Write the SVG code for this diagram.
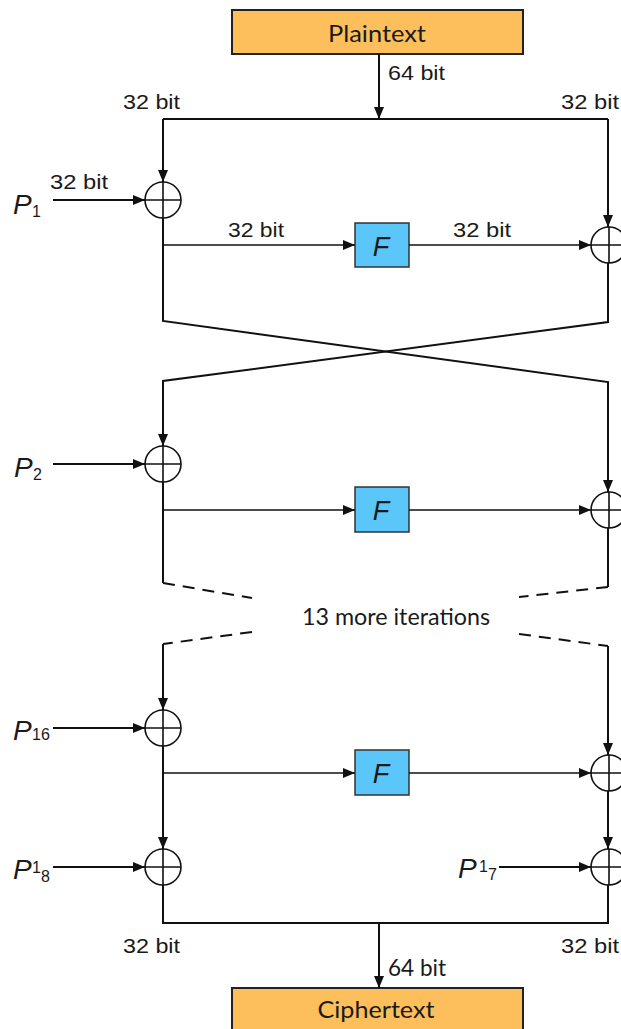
<svg xmlns="http://www.w3.org/2000/svg" width="621" height="1029" viewBox="0 0 621 1029">
<style>
.ln{stroke:#111;stroke-width:2;fill:none}
.thin{stroke:#111;stroke-width:1.6;fill:none}
.dash{stroke:#111;stroke-width:2;fill:none;stroke-dasharray:12 8}
.xor{stroke:#111;stroke-width:1.6;fill:#fff}
.io{fill:#fdbf5b;stroke:#222;stroke-width:2}
.fb{fill:#5ac6fa;stroke:#333;stroke-width:1.5}
.lbl{font-family:"Liberation Sans",Arial,sans-serif;font-size:20px;fill:#1a1a1a}
.cal{font-family:Lato,"Open Sans",sans-serif;font-size:24px;fill:#1a1a1a}
.p{font-family:"Liberation Sans",Arial,sans-serif;font-size:28px;font-style:italic;fill:#1a1a1a}
.sub{font-family:"Liberation Sans",Arial,sans-serif;font-size:16px;fill:#1a1a1a}
.f{font-family:"Liberation Sans",Arial,sans-serif;font-size:27px;font-style:italic;fill:#1a1a1a;text-anchor:middle}
</style>
<defs>
<marker id="ah" markerUnits="userSpaceOnUse" markerWidth="12" markerHeight="10" refX="12" refY="5" orient="auto">
<path d="M0,0 L12,5 L0,10 z" fill="#111"/>
</marker>
</defs>

<g id="plaintext">
<rect class="io" x="232" y="10" width="291" height="44"/>
<text class="cal" x="377" y="42" text-anchor="middle" textLength="98" lengthAdjust="spacingAndGlyphs">Plaintext</text>
</g>

<g id="ciphertext">
<rect class="io" x="232" y="988" width="291" height="50"/>
<text class="cal" x="376" y="1018" text-anchor="middle" textLength="117" lengthAdjust="spacingAndGlyphs">Ciphertext</text>
</g>

<g id="f1"><rect class="fb" x="355" y="223" width="54" height="44"/><text class="f" x="381" y="256">F</text></g>
<g id="f2"><rect class="fb" x="355" y="487" width="54" height="45"/><text class="f" x="381" y="520">F</text></g>
<g id="f3"><rect class="fb" x="355" y="750" width="54" height="45"/><text class="f" x="381" y="783">F</text></g>

<g id="xors">
<g id="xl1"><circle class="xor" cx="163" cy="200" r="18"/><path class="thin" d="M145,200H181M163,182V218"/></g>
<g id="xr1"><circle class="xor" cx="609" cy="245" r="18"/><path class="thin" d="M591,245H627M609,227V263"/></g>
<g id="xl2"><circle class="xor" cx="163" cy="464" r="18"/><path class="thin" d="M145,464H181M163,446V482"/></g>
<g id="xr2"><circle class="xor" cx="609" cy="510" r="18"/><path class="thin" d="M591,510H627M609,492V528"/></g>
<g id="xl3"><circle class="xor" cx="163" cy="728" r="18"/><path class="thin" d="M145,728H181M163,710V746"/></g>
<g id="xr3"><circle class="xor" cx="609" cy="773" r="18"/><path class="thin" d="M591,773H627M609,755V791"/></g>
<g id="xl4"><circle class="xor" cx="163" cy="867" r="18"/><path class="thin" d="M145,867H181M163,849V885"/></g>
<g id="xr4"><circle class="xor" cx="609" cy="867" r="18"/><path class="thin" d="M591,867H627M609,849V885"/></g>
</g>

<g id="connectors">
<line class="ln" x1="379" y1="54" x2="379" y2="119" marker-end="url(#ah)"/>
<path class="ln" d="M163,119H608"/>
<path class="ln" d="M163,119V182" marker-end="url(#ah)"/>
<path class="ln" d="M608,119V227" marker-end="url(#ah)"/>
<path class="ln" d="M53,200H145" marker-end="url(#ah)"/>
<path class="thin" d="M163,245H355" marker-end="url(#ah)"/>
<path class="thin" d="M409,245H591" marker-end="url(#ah)"/>
<path class="ln" d="M163,218V321L608,382V492" marker-end="url(#ah)"/>
<path class="ln" d="M608,263V322L163,381V446" marker-end="url(#ah)"/>
<path class="ln" d="M53,464H145" marker-end="url(#ah)"/>
<path class="thin" d="M163,510H355" marker-end="url(#ah)"/>
<path class="thin" d="M409,510H591" marker-end="url(#ah)"/>
<path class="ln" d="M163,482V583"/>
<path class="ln" d="M608,528V587"/>
<path class="dash" d="M163,583L252,598"/>
<path class="dash" d="M608,587L519,597"/>
<path class="dash" d="M252,632L163,644"/>
<path class="dash" d="M519,634L608,646"/>
<path class="ln" d="M163,644V710" marker-end="url(#ah)"/>
<path class="ln" d="M608,646V755" marker-end="url(#ah)"/>
<path class="ln" d="M53,728H145" marker-end="url(#ah)"/>
<path class="thin" d="M163,773H355" marker-end="url(#ah)"/>
<path class="thin" d="M409,773H591" marker-end="url(#ah)"/>
<path class="ln" d="M163,746V849" marker-end="url(#ah)"/>
<path class="ln" d="M608,791V849" marker-end="url(#ah)"/>
<path class="ln" d="M53,867H145" marker-end="url(#ah)"/>
<path class="ln" d="M499,867H591" marker-end="url(#ah)"/>
<path class="ln" d="M163,885V923H608V885"/>
<line class="ln" x1="379" y1="923" x2="379" y2="988" marker-end="url(#ah)"/>
</g>

<g id="labels">
<text class="lbl" x="388" y="80" textLength="57" lengthAdjust="spacingAndGlyphs">64 bit</text>
<text class="lbl" x="123" y="109" textLength="57" lengthAdjust="spacingAndGlyphs">32 bit</text>
<text class="lbl" x="561" y="109" textLength="58" lengthAdjust="spacingAndGlyphs">32 bit</text>
<text class="lbl" x="50" y="189" textLength="58" lengthAdjust="spacingAndGlyphs">32 bit</text>
<text class="lbl" x="228" y="237" textLength="56" lengthAdjust="spacingAndGlyphs">32 bit</text>
<text class="lbl" x="453" y="237" textLength="58" lengthAdjust="spacingAndGlyphs">32 bit</text>
<text class="cal" x="302" y="625" textLength="188" lengthAdjust="spacingAndGlyphs">13 more iterations</text>
<text class="lbl" x="123" y="953" textLength="57" lengthAdjust="spacingAndGlyphs">32 bit</text>
<text class="lbl" x="561" y="953" textLength="58" lengthAdjust="spacingAndGlyphs">32 bit</text>
<text class="cal" x="388" y="976" textLength="58" lengthAdjust="spacingAndGlyphs">64 bit</text>
<text class="p" x="13" y="214">P</text><text class="sub" x="32" y="217">1</text>
<text class="p" x="14" y="477">P</text><text class="sub" x="33" y="480">2</text>
<text class="p" x="13" y="740">P</text><text class="sub" x="32" y="740">16</text>
<text class="p" x="13" y="879">P</text><text class="sub" x="32" y="873">1</text><text class="sub" x="41" y="882">8</text>
<text class="p" x="458" y="878">P</text><text class="sub" x="479" y="872">1</text><text class="sub" x="488" y="880">7</text>
</g>
</svg>
